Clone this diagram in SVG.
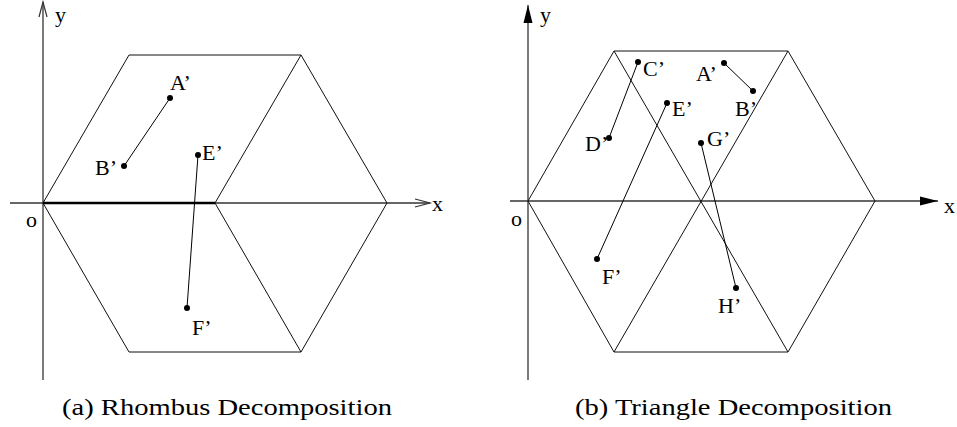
<svg xmlns="http://www.w3.org/2000/svg" width="957" height="427" viewBox="0 0 957 427">
<style>
.ax{stroke:#333;stroke-width:1.3;fill:none}
.ln{stroke:#111;stroke-width:1;fill:none}
.seg{stroke:#000;stroke-width:1;fill:none}
.dot{fill:#000}
text{font-family:'Liberation Serif','DejaVu Serif',serif;fill:#000}
.lb{font-size:22px}
.cap{font-size:24px}
</style>
<defs>
<marker id="open" markerWidth="20" markerHeight="12" refX="16" refY="6" orient="auto" markerUnits="userSpaceOnUse">
<path d="M1,2 L16,6 L1,10" fill="none" stroke="#333" stroke-width="1.2"/>
</marker>
<marker id="solid" markerWidth="20" markerHeight="12" refX="18" refY="6" orient="auto" markerUnits="userSpaceOnUse">
<path d="M0,1.5 L18,6 L0,10.5 Z" fill="#000"/>
</marker>
</defs>
<g id="panel-a">
<g id="axes-a">
<line class="ax" x1="43" y1="380" x2="43" y2="2" marker-end="url(#open)"/>
<line class="ax" x1="10" y1="203" x2="430" y2="203" marker-end="url(#open)"/>
<text class="lb" x="55" y="22">y</text>
<text class="lb" x="432" y="211">x</text>
<text class="lb" x="26" y="227">o</text>
</g>
<g id="hex-a">
<polygon class="ln" points="43,203 129,55 301,55 387,203 301,352 129,352"/>
<line class="ln" x1="215" y1="203" x2="301" y2="55"/>
<line class="ln" x1="215" y1="203" x2="301" y2="352"/>
<line x1="43" y1="203" x2="215" y2="203" stroke="#000" stroke-width="2.6"/>
</g>
<g id="connectors-a">
<line class="seg" x1="170" y1="98" x2="124" y2="166"/>
<line class="seg" x1="198" y1="155" x2="187" y2="308"/>
</g>
<g id="pt-a-A"><circle class="dot" cx="170" cy="98" r="3"/><text class="lb" x="170" y="90">A’</text></g>
<g id="pt-a-B"><circle class="dot" cx="124" cy="166" r="3"/><text class="lb" x="95" y="175">B’</text></g>
<g id="pt-a-E"><circle class="dot" cx="198" cy="155" r="3"/><text class="lb" x="202" y="160">E’</text></g>
<g id="pt-a-F"><circle class="dot" cx="187" cy="308" r="3"/><text class="lb" x="192" y="335">F’</text></g>
<text class="cap" x="62" y="415" textLength="330" lengthAdjust="spacingAndGlyphs">(a) Rhombus Decomposition</text>
</g>
<g id="panel-b">
<g id="axes-b">
<line class="ax" x1="528" y1="380" x2="528" y2="5" marker-end="url(#solid)"/>
<line class="ax" x1="510" y1="201" x2="938" y2="201" marker-end="url(#solid)"/>
<text class="lb" x="540" y="22">y</text>
<text class="lb" x="944" y="213">x</text>
<text class="lb" x="511" y="226">o</text>
</g>
<g id="hex-b">
<polygon class="ln" points="528,201 614,51 788,51 875,201 788,352 614,352"/>
<line class="ln" x1="614" y1="51" x2="788" y2="352"/>
<line class="ln" x1="788" y1="51" x2="614" y2="352"/>
</g>
<g id="connectors-b">
<line class="seg" x1="638" y1="62" x2="609" y2="138"/>
<line class="seg" x1="667" y1="103" x2="597" y2="259"/>
<line class="seg" x1="724" y1="63" x2="753" y2="91"/>
<line class="seg" x1="701" y1="143" x2="736" y2="288"/>
</g>
<g id="pt-b-C"><circle class="dot" cx="638" cy="62" r="3"/><text class="lb" x="643" y="76">C’</text></g>
<g id="pt-b-D"><circle class="dot" cx="609" cy="138" r="3"/><text class="lb" x="585" y="151">D’</text></g>
<g id="pt-b-E"><circle class="dot" cx="667" cy="103" r="3"/><text class="lb" x="672" y="116">E’</text></g>
<g id="pt-b-F"><circle class="dot" cx="597" cy="259" r="3"/><text class="lb" x="602" y="284">F’</text></g>
<g id="pt-b-A"><circle class="dot" cx="724" cy="63" r="3"/><text class="lb" x="696" y="81">A’</text></g>
<g id="pt-b-B"><circle class="dot" cx="753" cy="91" r="3"/><text class="lb" x="735" y="116">B’</text></g>
<g id="pt-b-G"><circle class="dot" cx="701" cy="143" r="3"/><text class="lb" x="707" y="146">G’</text></g>
<g id="pt-b-H"><circle class="dot" cx="736" cy="288" r="3"/><text class="lb" x="718" y="313">H’</text></g>
<text class="cap" x="575" y="415" textLength="317" lengthAdjust="spacingAndGlyphs">(b) Triangle Decomposition</text>
</g>
</svg>
